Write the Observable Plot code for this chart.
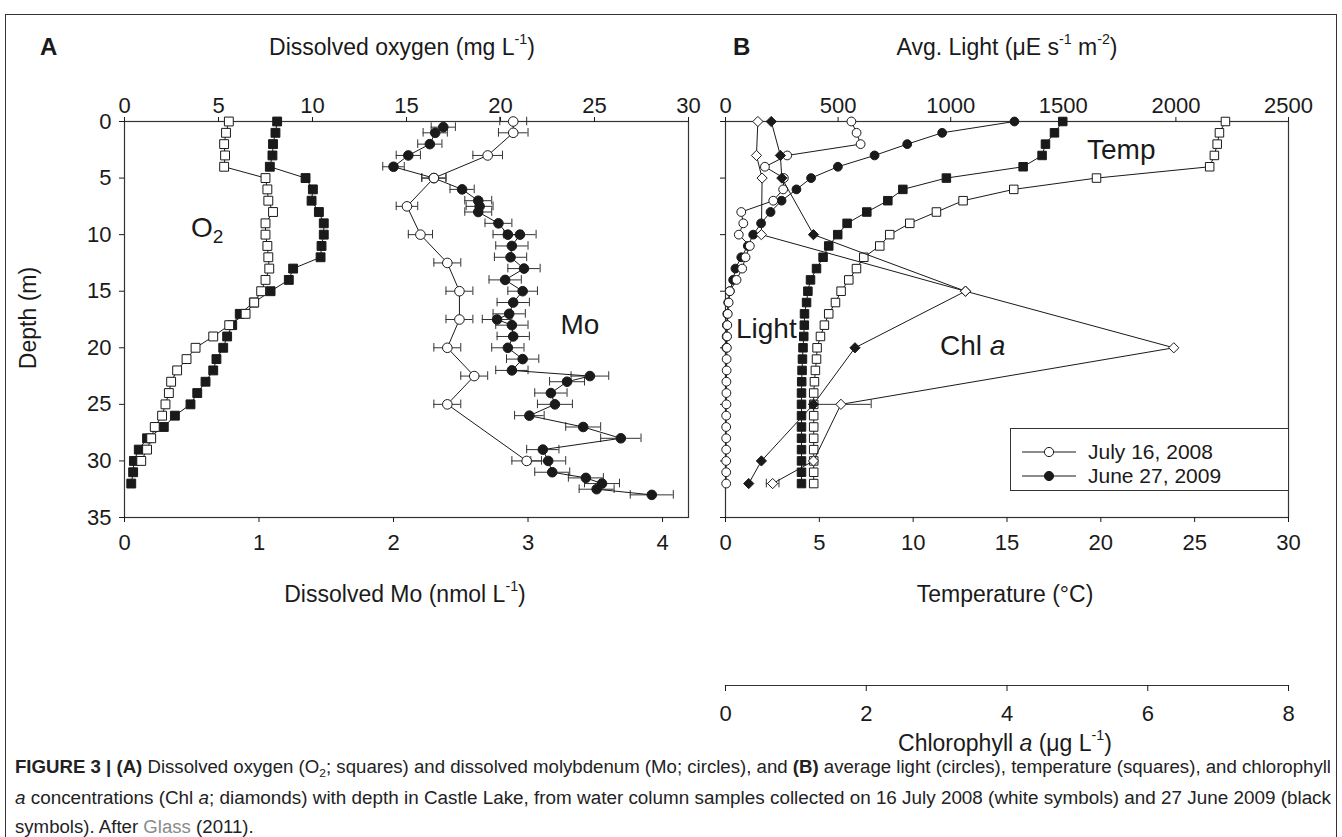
<!DOCTYPE html>
<html><head><meta charset="utf-8">
<script src="https://cdn.jsdelivr.net/npm/d3@7"></script>
<script src="https://cdn.jsdelivr.net/npm/@observablehq/plot@0.6"></script>
<style>
body{margin:0;background:#fff;font-family:"Liberation Sans",Arial,sans-serif;color:#1a1a1a}
#wrap{position:relative;width:1342px;height:837px;overflow:hidden;background:#fff}
.lbl{position:absolute;white-space:nowrap;line-height:1;transform:translate(-50%,-50%)}
.lft{position:absolute;white-space:nowrap;line-height:1;transform:translate(0,-50%)}
sup{font-size:62%;vertical-align:0.75em;line-height:0}
sub{font-size:65%;vertical-align:-0.3em;line-height:0}
#frameBox{position:absolute;left:5px;top:14px;width:1330px;height:900px;border:1.5px solid #333}
.cap{position:absolute;left:15px;white-space:nowrap;font-family:"Liberation Sans Narrow","Arial Narrow","Liberation Sans",sans-serif;font-size:18px;color:#222;transform-origin:0 0;display:inline-block;line-height:1}
</style></head><body>
<div id="wrap"><div id="frameBox"></div></div>
<script>
// ---------- Panel A: dissolved oxygen (mg/L) ----------
const o2Depth2008 = d3.range(0, 31);
const o2Val2008 = [5.55,5.4,5.3,5.35,5.3,7.5,7.6,7.65,7.9,7.5,7.5,7.6,7.65,7.7,7.5,7.27,6.9,6.44,5.57,4.72,3.78,3.3,2.8,2.48,2.36,2.18,2.0,1.61,1.42,1.2,0.89];
const o2Depth2009 = d3.range(0, 33);
const o2Val2009 = [8.12,8.03,7.9,7.87,7.73,9.63,10.02,9.95,10.34,10.6,10.6,10.48,10.43,8.97,8.74,7.77,6.88,6.13,5.73,5.46,5.25,4.89,4.72,4.31,3.87,3.51,2.68,2.09,1.2,0.76,0.5,0.46,0.36];

// ---------- Panel A: dissolved Mo (nmol/L) ----------
const moDepth2008 = [0,1,3,5,7.5,10,12.5,15,17.5,20,22.5,25,30];
const moVal2008 = [2.89,2.89,2.70,2.30,2.10,2.20,2.40,2.49,2.49,2.40,2.60,2.40,2.99];
const moErr2008 = [0.10,0.11,0.11,0.09,0.08,0.09,0.10,0.10,0.10,0.10,0.10,0.10,0.11];
const moDepth2009 = [0.5,1,2,3,4,5,6,7,7.5,8,9,10,10,11,12,13,14,15,16,17,17.5,18,19,20,21,22,22.5,23,24,25,26,27,28,29,30,31,31.5,32,32.5,33];
const moVal2009 = [2.37,2.31,2.27,2.11,2.00,2.30,2.51,2.63,2.64,2.63,2.78,2.85,2.94,2.88,2.87,2.97,2.83,2.96,2.89,2.86,2.77,2.88,2.89,2.85,2.96,2.88,3.46,3.29,3.17,3.20,3.01,3.41,3.69,3.11,3.15,3.18,3.43,3.55,3.51,3.92];
const moErr2009 = [0.09,0.09,0.09,0.09,0.08,0.09,0.09,0.10,0.10,0.10,0.10,0.11,0.12,0.12,0.12,0.12,0.12,0.11,0.12,0.12,0.11,0.12,0.12,0.12,0.12,0.12,0.14,0.13,0.12,0.13,0.11,0.13,0.15,0.12,0.13,0.13,0.13,0.13,0.13,0.16];

// ---------- Panel B: light (uE s-1 m-2) ----------
const lightDepth2008 = d3.range(0, 33);
const lightVal2008 = [559,582,600,274,175,259,256,212,70,79,59,108,89,74,49,19,14,10,8,7,6,5,5,4,4,4,3,3,3,3,3,3,3];
const lightDepth2009 = d3.range(0, 21);
const lightVal2009 = [1283,962,807,662,499,380,315,249,200,158,123,99,70,44,34,19,12,8,6,5,4];

// ---------- Panel B: temperature (C) ----------
const tempDepth = d3.range(0, 33);
const tempVal2008 = [26.64,26.32,26.2,26.05,25.8,19.77,15.36,12.66,11.24,9.82,8.75,8.22,7.37,6.98,6.57,6.16,5.86,5.5,5.27,5.06,4.88,4.85,4.79,4.74,4.7,4.7,4.7,4.7,4.7,4.7,4.7,4.7,4.7];
const tempVal2009 = [17.97,17.53,17.05,16.87,15.86,11.77,9.45,8.65,7.53,6.48,5.98,5.5,5.2,4.85,4.53,4.39,4.32,4.21,4.2,4.17,4.13,4.1,4.08,4.06,4.05,4.05,4.05,4.05,4.05,4.05,4.05,4.05,4.05];

// ---------- Panel B: chlorophyll a (ug/L) ----------
const chlDepth = [0,3,5,10,15,20,25,30,32];
const chlVal2008 = [0.46,0.44,0.52,0.51,3.41,6.37,1.64,1.25,0.67];
const chlVal2009 = [0.65,0.78,0.8,1.25,3.41,1.84,1.25,0.51,0.33];
const chlErrDepth2008 = [25,32];
const chlErrVal2008 = [1.64,0.67];
const chlErr2008 = [0.43,0.09];

// tick values
const depthTicks = [0,5,10,15,20,25,30,35];
const o2Ticks = [0,5,10,15,20,25,30];
const moTicks = [0,1,2,3,4];
const lightTicks = [0,500,1000,1500,2000,2500];
const tempTicks = [0,5,10,15,20,25,30];
const chlTicks = [0,2,4,6,8];

const rows = (ds, vs, es) => ds.map((d, i) => ({d, v: vs[i], e: es ? es[i] : 0}));
const fmt = d3.format("d");

const W = 1342, H = 837;
const INK = "#1a1a1a";
const FONT = "Liberation Sans, Arial, sans-serif";
const svgStyle = {position:"absolute", left:"0px", top:"0px", background:"transparent", overflow:"visible", fontFamily: FONT, fontSize:"22px", color: INK};
const base = {width: W, height: H, marginTop: 121, marginBottom: H - 517, style: svgStyle};
const yDepth = {domain:[0,35], reverse:true};
const A = {marginLeft:124, marginRight: W - 688};
const B = {marginLeft:725, marginRight: W - 1288};

const open = {fill:"white", stroke: INK, strokeWidth: 1};
const filled = {fill: INK, stroke: INK, strokeWidth: 1};
const lineS = {stroke: INK, strokeWidth: 1};

function errMarks(data, cap = 0.38) {
  return [
    Plot.ruleY(data, {y:"d", x1: r => r.v - r.e, x2: r => r.v + r.e, stroke:"#333", strokeWidth:1}),
    Plot.ruleX(data, {x: r => r.v - r.e, y1: r => r.d - cap, y2: r => r.d + cap, stroke:"#333", strokeWidth:1}),
    Plot.ruleX(data, {x: r => r.v + r.e, y1: r => r.d - cap, y2: r => r.d + cap, stroke:"#333", strokeWidth:1})
  ];
}

const wrap = document.getElementById("wrap");
const add = el => { wrap.appendChild(el); return el; };

// Panel A: O2 (top axis)
const o08 = rows(o2Depth2008, o2Val2008), o09 = rows(o2Depth2009, o2Val2009);
add(Plot.plot({...base, ...A,
  x: {domain:[0,30]}, y: yDepth,
  marks: [
    Plot.frame({stroke:"#333", strokeWidth:1.2}),
    Plot.axisX({anchor:"top", ticks:o2Ticks, tickFormat:fmt, tickSize:5, tickPadding:4, label:null, fontSize:22}),
    Plot.axisY({anchor:"left", ticks:depthTicks, tickFormat:fmt, tickSize:5, tickPadding:8, label:null, fontSize:22}),
    Plot.line(o09, {x:"v", y:"d", ...lineS}),
    Plot.line(o08, {x:"v", y:"d", ...lineS}),
    Plot.dot(o09, {x:"v", y:"d", symbol:"square", r:5, ...filled}),
    Plot.dot(o08, {x:"v", y:"d", symbol:"square", r:5, ...open})
  ]}));

// Panel A: Mo (bottom axis)
const m08 = rows(moDepth2008, moVal2008, moErr2008), m09 = rows(moDepth2009, moVal2009, moErr2009);
add(Plot.plot({...base, ...A,
  x: {domain:[0, 4.193]}, y: {...yDepth, axis:null},
  marks: [
    Plot.axisX({anchor:"bottom", ticks:moTicks, tickFormat:fmt, tickSize:5, tickPadding:12, label:null, fontSize:22}),
    ...errMarks(m09), ...errMarks(m08),
    Plot.line(m09, {x:"v", y:"d", ...lineS}),
    Plot.line(m08, {x:"v", y:"d", ...lineS}),
    Plot.dot(m09, {x:"v", y:"d", r:4.8, ...filled}),
    Plot.dot(m08, {x:"v", y:"d", r:4.8, ...open})
  ]}));

// Panel B: light (top axis)
const l08 = rows(lightDepth2008, lightVal2008), l09 = rows(lightDepth2009, lightVal2009);
add(Plot.plot({...base, ...B,
  x: {domain:[0,2500]}, y: yDepth,
  marks: [
    Plot.frame({stroke:"#333", strokeWidth:1.2}),
    Plot.axisX({anchor:"top", ticks:lightTicks, tickFormat:fmt, tickSize:5, tickPadding:4, label:null, fontSize:22}),
    Plot.axisY({anchor:"left", ticks:depthTicks, tickSize:5, tickFormat: () => "", label:null}),
    Plot.line(l09, {x:"v", y:"d", ...lineS}),
    Plot.line(l08, {x:"v", y:"d", ...lineS}),
    Plot.dot(l09, {x:"v", y:"d", r:4.4, ...filled}),
    Plot.dot(l08, {x:"v", y:"d", r:4.4, ...open})
  ]}));

// Panel B: temperature (bottom axis)
const t08 = rows(tempDepth, tempVal2008), t09 = rows(tempDepth, tempVal2009);
add(Plot.plot({...base, ...B,
  x: {domain:[0,30]}, y: {...yDepth, axis:null},
  marks: [
    Plot.axisX({anchor:"bottom", ticks:tempTicks, tickFormat:fmt, tickSize:5, tickPadding:12, label:null, fontSize:22}),
    Plot.line(t09, {x:"v", y:"d", ...lineS}),
    Plot.line(t08, {x:"v", y:"d", ...lineS}),
    Plot.dot(t09, {x:"v", y:"d", symbol:"square", r:4.8, ...filled}),
    Plot.dot(t08, {x:"v", y:"d", symbol:"square", r:4.8, ...open})
  ]}));

// Panel B: chlorophyll a diamonds
const c08 = rows(chlDepth, chlVal2008), c09 = rows(chlDepth, chlVal2009);
const ce08 = rows(chlErrDepth2008, chlErrVal2008, chlErr2008);
add(Plot.plot({...base, ...B,
  x: {domain:[0,8], axis:null}, y: {...yDepth, axis:null},
  marks: [
    ...errMarks(ce08),
    Plot.line(c08, {x:"v", y:"d", ...lineS}),
    Plot.line(c09, {x:"v", y:"d", ...lineS}),
    Plot.dot(c09, {x:"v", y:"d", symbol:"diamond2", r:4.6, ...filled}),
    Plot.dot(c08, {x:"v", y:"d", symbol:"diamond2", r:4.6, ...open})
  ]}));

// Chlorophyll axis (separate, lower)
add(Plot.plot({width: W, height: H, marginTop: 600, marginBottom: H - 685, ...B, style: svgStyle,
  x: {domain:[0,8]},
  marks: [
    Plot.frame({anchor:"bottom", stroke:"#333", strokeWidth:1.2}),
    Plot.axisX({anchor:"bottom", ticks:chlTicks, tickFormat:fmt, tickSize:6, tickPadding:14, label:null, fontSize:22})
  ]}));

// ---------- text labels ----------
function lbl(html, x, y, css = "", cls = "lbl") {
  const d = document.createElement("div");
  d.className = cls; d.innerHTML = html;
  d.style.left = x + "px"; d.style.top = y + "px";
  d.style.cssText += css;
  wrap.appendChild(d); return d;
}
lbl("A", 40, 47, "font-size:24px;font-weight:bold;", "lft");
lbl("B", 733, 47, "font-size:24px;font-weight:bold;", "lft");
lbl("Dissolved oxygen (mg L<sup>-1</sup>)", 402, 47, "font-size:23px;");
lbl("Avg. Light (&mu;E s<sup>-1</sup> m<sup>-2</sup>)", 1007, 47, "font-size:23px;");
lbl("Depth (m)", 28, 318, "font-size:23px;transform:translate(-50%,-50%) rotate(-90deg);");
lbl("Dissolved Mo (nmol L<sup>-1</sup>)", 405, 594, "font-size:23px;");
lbl("Temperature (&deg;C)", 1005, 594, "font-size:23px;");
lbl("Chlorophyll <i>a</i> (&mu;g L<sup>-1</sup>)", 1005, 743, "font-size:23px;");
lbl("O<sub style='font-size:68%'>2</sub>", 191, 228, "font-size:28px;", "lft");
lbl("Mo", 580, 325, "font-size:28px;");
lbl("Light", 736, 329, "font-size:28px;", "lft");
lbl("Temp", 1087, 150, "font-size:28px;", "lft");
lbl("Chl <i>a</i>", 940, 346, "font-size:28px;", "lft");

// legend
const leg = document.createElement("div");
leg.style.cssText = "position:absolute;left:1010px;top:428px;width:277px;height:61px;border:1.2px solid #333;background:#fff;";
leg.innerHTML = `<svg width="277" height="61" style="position:absolute;left:0;top:0">
<line x1="11" x2="65" y1="23" y2="23" stroke="${INK}"/><circle cx="38" cy="23" r="4.6" fill="#fff" stroke="${INK}"/>
<line x1="11" x2="65" y1="47" y2="47" stroke="${INK}"/><circle cx="38" cy="47" r="4.6" fill="${INK}" stroke="${INK}"/>
</svg>
<div style="position:absolute;left:77px;top:12px;font-size:21px;line-height:1;white-space:nowrap">July 16, 2008</div>
<div style="position:absolute;left:77px;top:36px;font-size:21px;line-height:1;white-space:nowrap">June 27, 2009</div>`;
wrap.appendChild(leg);

// caption
const capLines = [
  "<b>FIGURE 3 | (A)</b> Dissolved oxygen (O<sub>2</sub>; squares) and dissolved molybdenum (Mo; circles), and <b>(B)</b> average light (circles), temperature (squares), and chlorophyll",
  "<i>a</i> concentrations (Chl <i>a</i>; diamonds) with depth in Castle Lake, from water column samples collected on 16 July 2008 (white symbols) and 27 June 2009 (black",
  "symbols). After <span style='color:#8a8a8a'>Glass</span> (2011)."
];
const capTops = [758, 789, 818];
const capEls = capLines.map((h, i) => {
  const s = document.createElement("span");
  s.className = "cap"; s.innerHTML = h; s.style.top = capTops[i] + "px";
  wrap.appendChild(s); return s;
});
const w0 = capEls[0].getBoundingClientRect().width;
const k0 = 1316 / w0;
capEls[0].style.transform = `scaleX(${k0})`;
const w1 = capEls[1].getBoundingClientRect().width;
capEls[1].style.transform = `scaleX(${1316 / w1})`;
capEls[2].style.transform = `scaleX(${k0})`;
</script>
</body></html>
